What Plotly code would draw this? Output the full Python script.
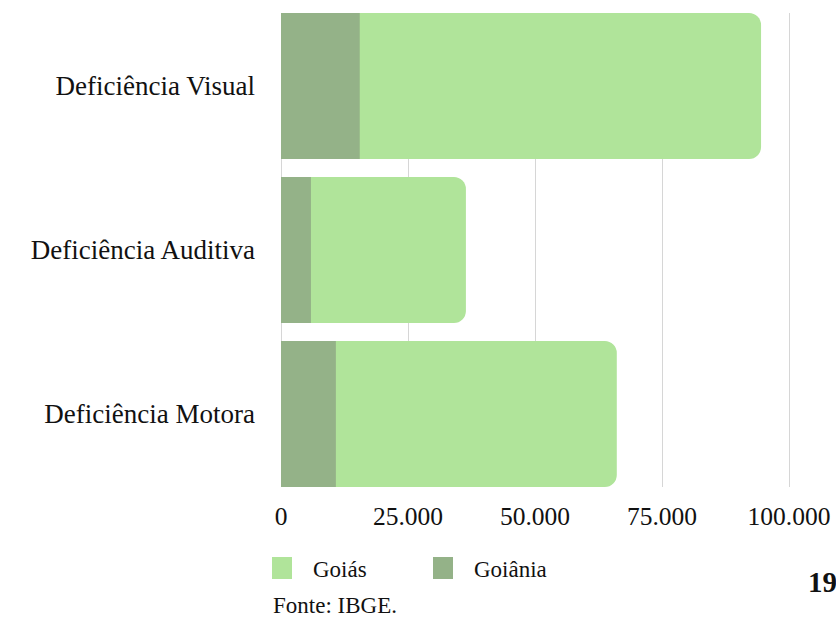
import plotly.graph_objects as go

categorias = ["Deficiência Visual", "Deficiência Auditiva", "Deficiência Motora"]
goias = [94500, 36400, 66100]
goiania = [15500, 5900, 10800]
x_ticks = [0, 25000, 50000, 75000, 100000]
x_tick_labels = ["0", "25.000", "50.000", "75.000", "100.000"]

C_GOIAS = "#B0E49A"
C_GOIANIA = "#94B288"
FONT = "Liberation Serif"

PW = 512  # plot width in px
fig = go.Figure()
fig.add_trace(go.Bar(
    y=categorias, x=goias, orientation="h", name="Goiás",
    marker=dict(color=C_GOIAS, cornerradius=12, line=dict(width=0)),
    width=0.89, showlegend=False,
))
fig.add_trace(go.Bar(
    y=categorias, x=goiania, orientation="h", name="Goiânia",
    marker=dict(color=C_GOIANIA, cornerradius=0, line=dict(width=0)),
    width=0.89, showlegend=False,
))

def px(x):
    return (x - 281) / PW

def py(y):
    return (619 - 132 - y) / 474

fig.update_layout(
    width=836, height=619,
    margin=dict(l=281, r=836 - 281 - PW, t=13, b=132),
    barmode="overlay",
    plot_bgcolor="white", paper_bgcolor="white",
    font=dict(family=FONT, color="#111111", size=24),
    xaxis=dict(
        range=[0, 100000 * PW / 508], tickvals=x_ticks, ticktext=x_tick_labels,
        showgrid=True, gridcolor="#D6D6D6", gridwidth=1,
        zeroline=True, zerolinecolor="#D6D6D6", zerolinewidth=1,
        showline=False, ticks="", tickfont=dict(size=25.5, family=FONT),
        ticklabelstandoff=11, automargin=False,
    ),
    yaxis=dict(
        categoryorder="array", categoryarray=categorias,
        range=[2.445, -0.445], showgrid=False, zeroline=False, showline=False,
        ticks="", tickfont=dict(size=27, family=FONT), ticklabelstandoff=25,
        automargin=False,
    ),
    shapes=[
        dict(type="rect", xref="paper", yref="paper",
             x0=px(272), x1=px(292), y0=py(579), y1=py(557),
             fillcolor=C_GOIAS, line=dict(width=0)),
        dict(type="rect", xref="paper", yref="paper",
             x0=px(433), x1=px(453), y0=py(579), y1=py(557),
             fillcolor=C_GOIANIA, line=dict(width=0)),
    ],
    annotations=[
        dict(text="Goiás", xref="paper", yref="paper",
             x=px(311), y=py(569), xanchor="left", yanchor="middle",
             showarrow=False, font=dict(size=23, family=FONT, color="#111111")),
        dict(text="Goiânia", xref="paper", yref="paper",
             x=px(472), y=py(569), xanchor="left", yanchor="middle",
             showarrow=False, font=dict(size=23, family=FONT, color="#111111")),
        dict(text="Fonte: IBGE.", xref="paper", yref="paper",
             x=px(271), y=py(605), xanchor="left", yanchor="middle",
             showarrow=False, font=dict(size=23, family=FONT, color="#111111")),
        dict(text="<b>19</b>", xref="paper", yref="paper",
             x=px(806), y=py(582), xanchor="left", yanchor="middle",
             showarrow=False, font=dict(size=29, family=FONT, color="#111111")),
    ],
)

fig.write_html("out.html")
